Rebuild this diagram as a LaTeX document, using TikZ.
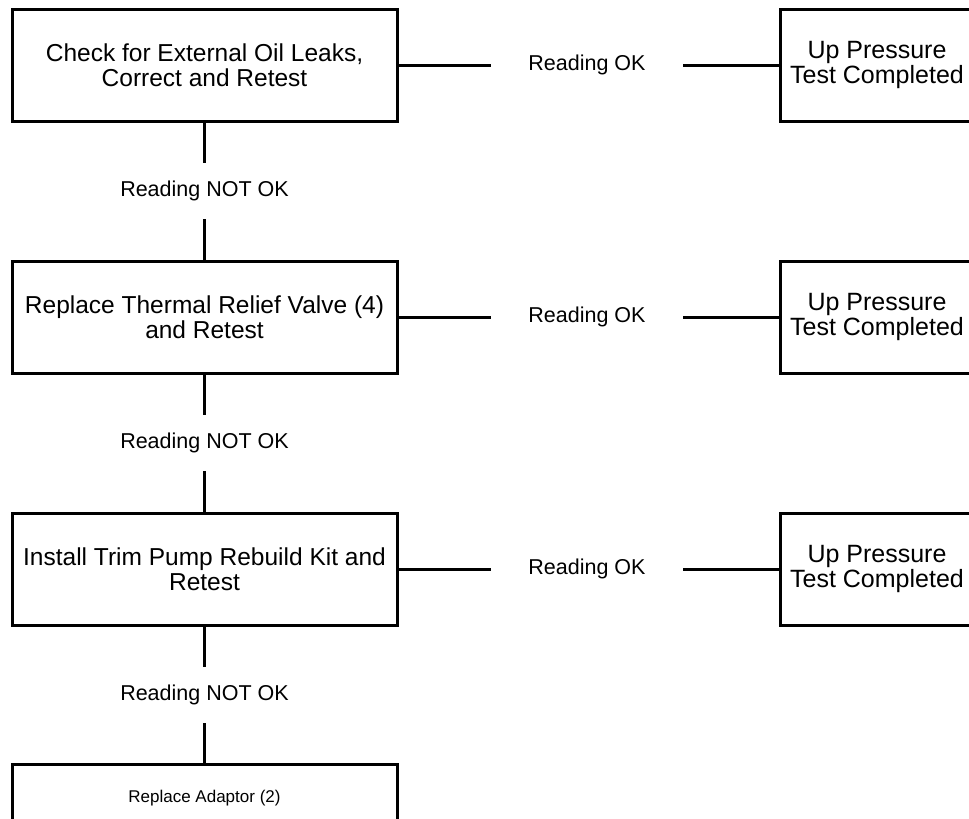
\documentclass[tikz,border=0pt]{standalone}
\usepackage{fontspec}
\setmainfont{Liberation Sans}
\begin{document}
\begin{tikzpicture}[x=1pt,y=-1pt,
  box/.style={draw, line width=3pt, minimum width=385pt, minimum height=112pt,
    inner sep=0pt, outer sep=0pt, align=center, font=\fontsize{24.5}{25.5}\selectfont},
  donebox/.style={box, minimum width=193pt, font=\fontsize{25}{25.5}\selectfont},
  lastbox/.style={box, minimum height=68pt, font=\fontsize{17}{21}\selectfont},
  lblh/.style={inner sep=0pt, outer sep=0pt, minimum width=192pt, font=\fontsize{21.5}{25}\selectfont},
  lblv/.style={inner sep=0pt, outer sep=0pt, minimum height=56pt, font=\fontsize{21.5}{25}\selectfont},
  conn/.style={line width=3pt}]
\useasboundingbox (0,0) rectangle (969,819);
\clip (0,0) rectangle (969,819);
\fill[white] (0,0) rectangle (969,819);

% left column
\node[box] (b1) at (204.5,65) {Check for External Oil Leaks,\\Correct and Retest};
\node[box] (b2) at (204.5,317) {Replace Thermal Relief Valve (4)\\and Retest};
\node[box] (b3) at (204.5,569) {Install Trim Pump Rebuild Kit and\\Retest};
\node[lastbox] (b4) at (204.5,798) {Replace Adaptor (2)};

% right column
\node[donebox] (d1) at (877,65) {Up Pressure\\Test Completed};
\node[donebox] (d2) at (877,317) {Up Pressure\\Test Completed};
\node[donebox] (d3) at (877,569) {Up Pressure\\Test Completed};

% horizontal labels
\node[lblh] (ok1) at (587,65) {Reading OK};
\node[lblh] (ok2) at (587,317) {Reading OK};
\node[lblh] (ok3) at (587,569) {Reading OK};

% vertical labels
\node[lblv] (n1) at (204.5,191) {Reading NOT OK};
\node[lblv] (n2) at (204.5,443) {Reading NOT OK};
\node[lblv] (n3) at (204.5,695) {Reading NOT OK};

% connectors
\draw[conn] (b1.east) -- (ok1.west);
\draw[conn] (ok1.east) -- (d1.west);
\draw[conn] (b2.east) -- (ok2.west);
\draw[conn] (ok2.east) -- (d2.west);
\draw[conn] (b3.east) -- (ok3.west);
\draw[conn] (ok3.east) -- (d3.west);

\draw[conn] (b1.south) -- (n1.north);
\draw[conn] (n1.south) -- (b2.north);
\draw[conn] (b2.south) -- (n2.north);
\draw[conn] (n2.south) -- (b3.north);
\draw[conn] (b3.south) -- (n3.north);
\draw[conn] (n3.south) -- (b4.north);
\end{tikzpicture}
\end{document}
